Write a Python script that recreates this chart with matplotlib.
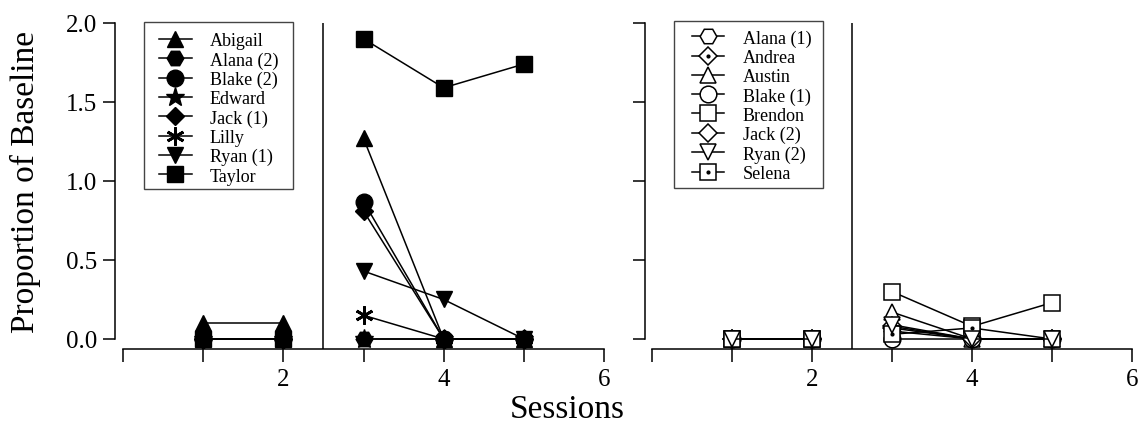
import matplotlib
matplotlib.use('Agg')
import matplotlib.pyplot as plt
from matplotlib.patches import Rectangle

plt.rcParams['font.family'] = ['Liberation Serif', 'DejaVu Serif']

# 資料：每位參與者 5 個 session（1-2 基線，3-5 介入）
sessions = [1, 2, 3, 4, 5]

# 左圖（實心符號）
left_names = ['Abigail', 'Alana (2)', 'Blake (2)', 'Edward', 'Jack (1)', 'Lilly', 'Ryan (1)', 'Taylor']
abigail = [0.10, 0.10, 1.27, 0.0, 0.0]
alana2 = [0.0, 0.0, 0.0, 0.0, 0.0]
blake2 = [0.0, 0.0, 0.87, 0.0, 0.0]
edward = [0.0, 0.0, 0.0, 0.0, 0.0]
jack1 = [0.0, 0.0, 0.81, 0.0, 0.0]
lilly = [0.0, 0.0, 0.15, 0.0, 0.0]
ryan1 = [0.0, 0.0, 0.43, 0.25, 0.0]
taylor = [0.0, 0.0, 1.90, 1.59, 1.74]
left_values = [abigail, alana2, blake2, edward, jack1, lilly, ryan1, taylor]

# 右圖（空心符號）
right_names = ['Alana (1)', 'Andrea', 'Austin', 'Blake (1)', 'Brendon', 'Jack (2)', 'Ryan (2)', 'Selena']
alana1 = [0.0, 0.0, 0.05, 0.0, 0.0]
andrea = [0.0, 0.0, 0.07, 0.0, 0.0]
austin = [0.0, 0.0, 0.17, 0.0, 0.0]
blake1 = [0.0, 0.0, 0.0, 0.0, 0.0]
brendon = [0.0, 0.0, 0.30, 0.08, 0.23]
jack2 = [0.0, 0.0, 0.08, 0.0, 0.0]
ryan2 = [0.0, 0.0, 0.09, 0.0, 0.0]
selena = [0.0, 0.0, 0.03, 0.07, 0.0]
right_values = [alana1, andrea, austin, blake1, brendon, jack2, ryan2, selena]

yticks = [0.0, 0.5, 1.0, 1.5, 2.0]
xticks = [0, 1, 2, 3, 4, 5, 6]
xticklabels = ['', '', '2', '', '4', '', '6']
phase_change = 2.5

# 符號設定
left_markers = [('^', 12), ('H', 12), ('o', 12), ('*', 14), ('D', 9), ((6, 2, 0), 13), ('v', 12), ('s', 12)]
right_markers = [('H', 12), ('D', 9), ('^', 12), ('o', 12), ('s', 12), ('D', 9), ('v', 12), ('s', 12)]
right_dot = [False, True, False, False, False, False, False, True]
right_z = [3, 3, 3, 3, 3, 3, 3.2, 3.1]  # Ryan (2) 畫在最上層

LW = 1.1
FIG_W, FIG_H = 1141, 431
fig = plt.figure(figsize=(FIG_W / 100, FIG_H / 100), dpi=100)

y_bottom = -0.0633
ax1 = fig.add_axes([115 / FIG_W, (FIG_H - 350) / FIG_H, 489 / FIG_W, 326 / FIG_H])
ax2 = fig.add_axes([645 / FIG_W, (FIG_H - 350) / FIG_H, 487 / FIG_W, 326 / FIG_H])


def style_axis(ax, xleft, show_ylabels):
    ax.set_xlim(xleft, 6)
    ax.set_ylim(y_bottom, 2.0)
    for s in ['top', 'right']:
        ax.spines[s].set_visible(False)
    ax.spines['left'].set_bounds(0, 2)
    ax.spines['bottom'].set_bounds(0, 6)
    for s in ['left', 'bottom']:
        ax.spines[s].set_linewidth(1.1)
    ax.set_yticks(yticks)
    ax.set_xticks(xticks)
    ax.set_xticklabels(xticklabels)
    if show_ylabels:
        ax.set_yticklabels(['%.1f' % v for v in yticks])
    else:
        ax.set_yticklabels([])
    ax.tick_params(axis='both', direction='out', length=9, width=1.1, labelsize=18)
    ax.tick_params(axis='x', pad=5)
    ax.tick_params(axis='y', pad=4)
    ax.axvline(phase_change, color='black', lw=LW)


def legend_box(ax, handles, names, x0, x1, y0, y1, hx, hy):
    # 圖例外框另外畫，讓內距和原圖一致
    ax.add_patch(Rectangle((x0, y0), x1 - x0, y1 - y0, transform=ax.transAxes, fill=True,
                           facecolor='white', edgecolor='#444444', lw=1.0, clip_on=False, zorder=4))
    leg = ax.legend(handles, names, loc='upper left', bbox_to_anchor=(hx, hy), borderaxespad=0,
                    fontsize=13, frameon=False, handlelength=1.8, handletextpad=1.0,
                    labelspacing=0.12, borderpad=0)
    leg.set_zorder(5)


style_axis(ax1, -0.1, True)
style_axis(ax2, -0.0875, False)

# 左圖
handles = []
for name, vals, (m, ms) in zip(left_names, left_values, left_markers):
    kw = dict(color='black', lw=LW, marker=m, markersize=ms, markerfacecolor='black',
              markeredgecolor='black', markeredgewidth=2 if m == (6, 2, 0) else 1, clip_on=False)
    h, = ax1.plot(sessions[:2], vals[:2], **kw)
    ax1.plot(sessions[2:], vals[2:], **kw)
    handles.append(h)
legend_box(ax1, handles, left_names, 0.0593, 0.364, 0.491, 1.003, 0.09, 0.972)

# 右圖
handles = []
for name, vals, (m, ms), dot, z in zip(right_names, right_values, right_markers, right_dot, right_z):
    kw = dict(color='black', lw=LW, marker=m, markersize=ms, markerfacecolor='white',
              markeredgecolor='black', markeredgewidth=1.1, clip_on=False, zorder=z)
    h, = ax2.plot(sessions[:2], vals[:2], **kw)
    ax2.plot(sessions[2:], vals[2:], **kw)
    if dot:
        d, = ax2.plot(sessions, vals, ls='none', marker='.', markersize=4, color='black',
                      clip_on=False, zorder=z)
        handles.append((h, d))
    else:
        handles.append(h)
legend_box(ax2, handles, right_names, 0.0595, 0.3655, 0.494, 1.006, 0.0965, 0.98)

fig.text(25 / FIG_W, 1 - 182 / FIG_H, 'Proportion of Baseline', rotation=90, ha='center', va='center', fontsize=24)
fig.text(567 / FIG_W, 1 - 410 / FIG_H, 'Sessions', ha='center', va='center', fontsize=24)

fig.savefig('out.png', dpi=100)
